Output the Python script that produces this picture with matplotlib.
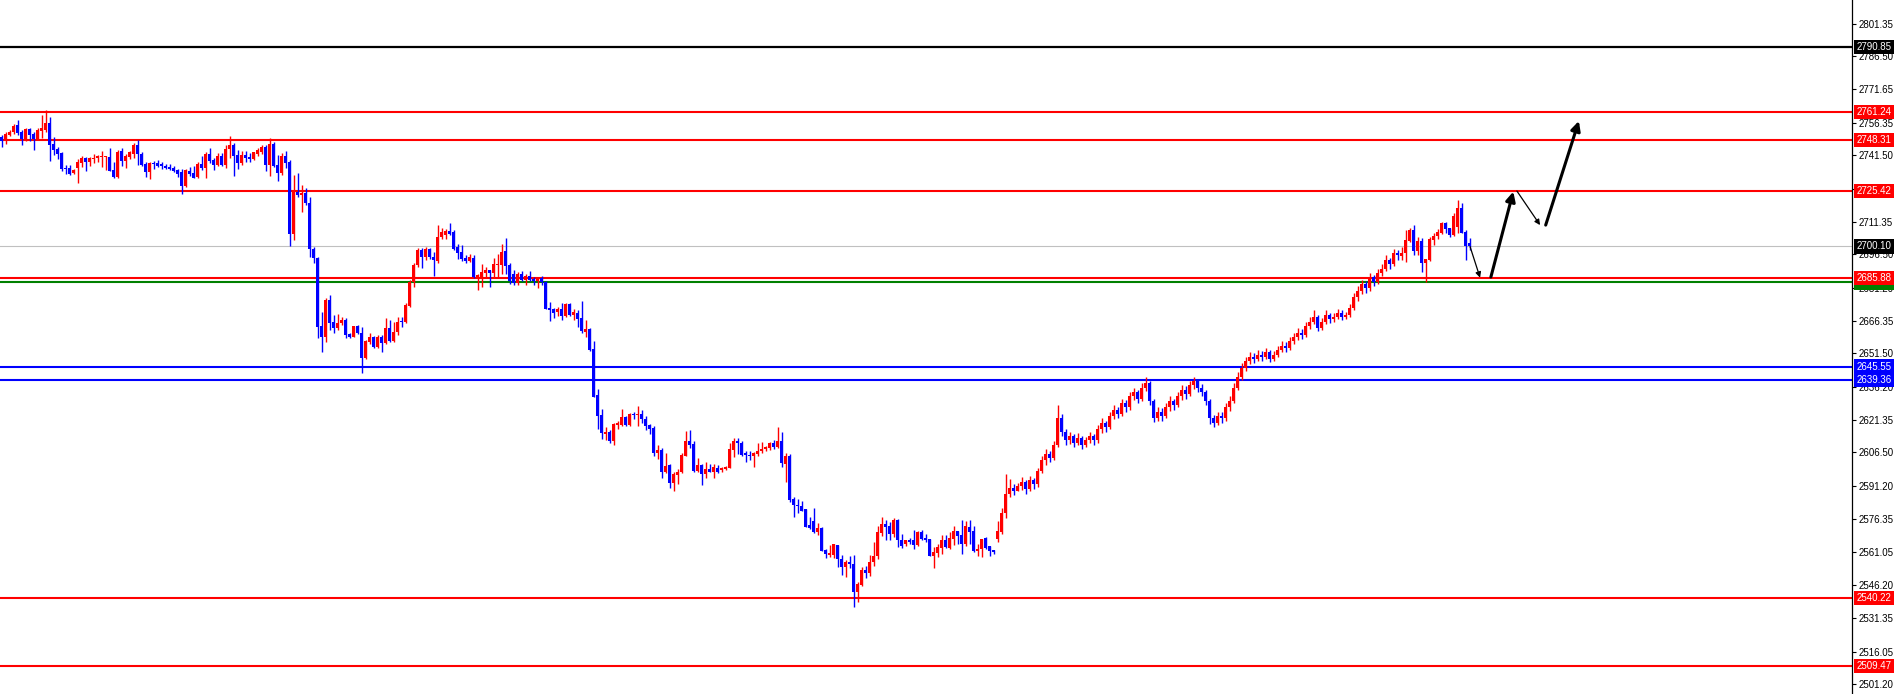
import numpy as np
import matplotlib
matplotlib.use('Agg')
import matplotlib.pyplot as plt
import matplotlib.transforms as mtransforms

# candle data (H4 style chart), oldest first
opens = [
	2749.7, 2748.6, 2750.9, 2752.0, 2755.1, 2752.0, 2749.1, 2753.4, 2751.4, 2749.1,
	2752.5, 2753.2, 2756.0, 2746.8, 2744.5, 2742.6, 2735.8, 2735.8, 2733.4, 2735.8,
	2738.1, 2740.4, 2738.6, 2739.7, 2740.2, 2740.6, 2740.8, 2740.9, 2734.8, 2731.5,
	2743.5, 2739.1, 2740.8, 2742.0, 2746.3, 2742.3, 2737.5, 2734.0, 2738.0, 2738.0,
	2737.4, 2736.8, 2736.3, 2735.8, 2734.7, 2734.0, 2727.4, 2734.5, 2733.5, 2731.5,
	2737.4, 2735.8, 2741.9, 2739.3, 2737.1, 2741.2, 2737.1, 2744.3, 2746.3, 2741.7,
	2737.8, 2741.7, 2740.9, 2739.8, 2742.0, 2742.9, 2745.5, 2737.1, 2746.6, 2737.1,
	2733.5, 2741.2, 2738.6, 2705.8, 2725.0, 2723.7, 2724.5, 2720.0, 2698.8, 2694.7,
	2663.9, 2659.1, 2675.7, 2665.9, 2662.9, 2665.2, 2666.7, 2660.3, 2659.1, 2663.9,
	2660.9, 2649.3, 2656.7, 2658.8, 2654.2, 2658.8, 2656.4, 2662.9, 2657.1, 2661.4,
	2666.2, 2665.9, 2673.2, 2684.1, 2691.6, 2698.5, 2695.1, 2698.8, 2695.4, 2693.6,
	2704.3, 2705.3, 2707.1, 2706.6, 2699.8, 2697.5, 2695.0, 2693.4, 2695.0, 2686.3,
	2686.3, 2688.1, 2689.2, 2688.1, 2691.6, 2691.5, 2698.0, 2691.5, 2687.4, 2683.3,
	2687.8, 2684.8, 2686.9, 2685.4, 2684.3, 2685.8, 2683.9, 2672.2, 2671.5, 2670.3,
	2671.8, 2668.5, 2673.8, 2668.8, 2670.0, 2667.5, 2661.4, 2662.7, 2653.4, 2632.7,
	2623.6, 2615.0, 2615.9, 2611.5, 2619.0, 2619.0, 2622.8, 2619.0, 2624.2, 2623.7,
	2624.0, 2621.9, 2619.0, 2617.8, 2606.2, 2607.7, 2597.8, 2600.6, 2592.6, 2596.3,
	2597.4, 2605.0, 2611.8, 2610.4, 2598.3, 2600.9, 2596.8, 2599.1, 2597.8, 2599.4,
	2598.4, 2598.8, 2599.3, 2607.6, 2611.9, 2610.9, 2606.1, 2605.5, 2604.7, 2605.8,
	2607.0, 2607.9, 2608.4, 2610.6, 2608.8, 2611.9, 2601.3, 2605.0, 2585.4, 2582.8,
	2582.2, 2580.7, 2573.7, 2575.2, 2570.2, 2572.0, 2562.3, 2559.9, 2560.1, 2564.6,
	2558.2, 2554.3, 2556.9, 2555.8, 2543.0, 2546.4, 2553.1, 2551.6, 2556.6, 2559.5,
	2570.1, 2573.8, 2572.9, 2569.3, 2575.7, 2566.9, 2564.8, 2566.6, 2566.6, 2564.3,
	2570.2, 2567.5, 2567.0, 2559.5, 2560.8, 2563.1, 2566.6, 2563.2, 2567.2, 2570.7,
	2568.8, 2564.8, 2572.6, 2570.7, 2561.6, 2562.5, 2567.5, 2563.8, 2562.0, 2567.0,
	2570.4, 2579.0, 2587.8, 2590.5, 2588.8, 2591.1, 2593.0, 2590.0, 2594.0, 2592.0,
	2598.0, 2603.0, 2606.0, 2604.0, 2610.0, 2622.0, 2616.0, 2612.0, 2614.0, 2611.0,
	2613.0, 2610.0, 2612.0, 2614.0, 2612.0, 2617.0, 2620.0, 2618.0, 2623.0, 2626.0,
	2624.0, 2629.0, 2627.0, 2632.0, 2634.0, 2631.0, 2636.0, 2638.0, 2630.0, 2622.0,
	2625.0, 2623.0, 2627.0, 2630.0, 2628.0, 2632.0, 2635.0, 2633.0, 2637.0, 2639.0,
	2636.0, 2634.0, 2630.0, 2622.0, 2620.0, 2623.0, 2622.0, 2627.0, 2630.0, 2636.0,
	2641.0, 2645.0, 2648.0, 2650.0, 2649.0, 2651.0, 2650.0, 2652.0, 2649.0, 2651.0,
	2653.0, 2655.0, 2654.0, 2657.0, 2659.0, 2661.0, 2660.0, 2664.0, 2666.0, 2668.0,
	2663.0, 2666.0, 2669.0, 2667.0, 2668.0, 2670.0, 2668.0, 2669.0, 2672.0, 2677.0,
	2680.0, 2683.0, 2681.0, 2686.0, 2684.0, 2688.0, 2690.0, 2694.0, 2692.0, 2697.0,
	2695.8, 2697.3, 2702.7, 2707.6, 2698.2, 2702.6, 2692.4, 2694.0, 2703.0, 2704.8,
	2706.3, 2710.6, 2708.3, 2705.3, 2709.0, 2717.4, 2706.8, 2701.5]

highs = [
	2750.9, 2752.2, 2752.8, 2755.9, 2757.4, 2752.8, 2753.7, 2753.7, 2752.2, 2754.0,
	2759.9, 2762.0, 2758.9, 2749.9, 2745.2, 2743.2, 2737.1, 2737.1, 2735.5, 2739.9,
	2741.2, 2740.9, 2740.9, 2741.9, 2741.7, 2743.5, 2741.3, 2744.8, 2738.6, 2744.0,
	2745.0, 2741.9, 2743.5, 2747.1, 2748.3, 2743.2, 2738.6, 2738.6, 2738.9, 2739.4,
	2738.6, 2737.4, 2737.6, 2736.6, 2735.5, 2735.2, 2735.5, 2736.3, 2736.6, 2738.6,
	2741.3, 2743.2, 2745.0, 2740.1, 2742.5, 2742.5, 2746.3, 2750.1, 2747.1, 2744.0,
	2743.5, 2743.5, 2742.5, 2743.2, 2744.8, 2746.3, 2746.3, 2749.4, 2747.4, 2741.7,
	2742.5, 2743.5, 2739.4, 2732.7, 2733.6, 2728.0, 2726.5, 2722.7, 2700.0, 2695.4,
	2670.1, 2676.5, 2678.0, 2668.9, 2669.4, 2668.2, 2667.4, 2660.9, 2664.1, 2664.2,
	2663.6, 2657.6, 2660.9, 2659.4, 2659.8, 2659.8, 2667.4, 2666.6, 2665.9, 2668.2,
	2668.2, 2674.2, 2684.8, 2692.4, 2699.5, 2699.2, 2699.7, 2699.2, 2697.7, 2710.0,
	2708.6, 2708.1, 2710.6, 2707.4, 2701.0, 2700.6, 2696.0, 2696.5, 2696.0, 2687.8,
	2691.9, 2690.9, 2689.2, 2694.9, 2696.5, 2701.0, 2704.0, 2692.7, 2689.3, 2688.4,
	2688.9, 2687.4, 2688.9, 2686.3, 2686.3, 2686.6, 2684.4, 2674.8, 2672.2, 2672.7,
	2674.2, 2674.2, 2674.2, 2671.5, 2671.2, 2675.3, 2666.8, 2662.9, 2657.2, 2635.4,
	2626.3, 2618.1, 2616.5, 2619.8, 2620.6, 2626.3, 2623.1, 2624.4, 2625.1, 2627.4,
	2625.9, 2623.1, 2619.5, 2618.3, 2610.0, 2608.4, 2606.2, 2601.2, 2597.4, 2598.9,
	2606.2, 2616.3, 2616.8, 2611.5, 2603.9, 2601.3, 2602.1, 2601.3, 2601.3, 2600.9,
	2599.7, 2600.4, 2611.0, 2612.9, 2612.9, 2611.5, 2607.3, 2607.0, 2606.5, 2610.6,
	2611.1, 2609.6, 2611.1, 2612.2, 2618.2, 2615.9, 2606.2, 2605.8, 2586.1, 2585.2,
	2584.6, 2580.8, 2577.0, 2581.1, 2574.3, 2572.5, 2562.6, 2564.6, 2564.9, 2564.6,
	2560.1, 2557.6, 2559.6, 2560.1, 2547.5, 2554.6, 2555.1, 2560.1, 2565.7, 2572.9,
	2577.2, 2575.7, 2574.9, 2576.7, 2576.1, 2569.3, 2566.9, 2567.5, 2571.4, 2570.8,
	2571.1, 2569.3, 2567.0, 2563.5, 2564.8, 2568.8, 2568.8, 2570.2, 2572.9, 2570.8,
	2575.7, 2575.2, 2575.7, 2572.9, 2564.8, 2567.3, 2568.1, 2563.8, 2562.3, 2575.2,
	2581.3, 2596.9, 2594.6, 2592.3, 2592.6, 2595.5, 2594.0, 2596.0, 2595.0, 2599.5,
	2605.0, 2608.0, 2607.0, 2611.5, 2628.0, 2624.0, 2617.0, 2616.0, 2615.0, 2615.5,
	2614.0, 2613.5, 2616.0, 2615.0, 2619.0, 2622.0, 2621.0, 2625.0, 2628.0, 2627.0,
	2631.0, 2630.5, 2634.0, 2636.0, 2635.0, 2638.0, 2641.0, 2639.0, 2631.0, 2627.0,
	2626.5, 2629.0, 2632.0, 2631.0, 2634.0, 2637.0, 2636.5, 2639.0, 2641.0, 2640.0,
	2637.5, 2635.0, 2631.0, 2623.5, 2625.0, 2625.0, 2629.0, 2632.0, 2638.0, 2643.0,
	2647.0, 2650.0, 2652.0, 2651.5, 2653.0, 2652.5, 2654.0, 2653.0, 2652.5, 2655.0,
	2657.0, 2656.5, 2659.0, 2661.0, 2663.0, 2662.5, 2666.0, 2668.0, 2671.0, 2669.0,
	2667.5, 2671.0, 2670.0, 2670.0, 2671.5, 2671.0, 2670.5, 2674.0, 2679.0, 2682.0,
	2685.0, 2684.5, 2688.0, 2687.0, 2690.0, 2692.0, 2696.0, 2695.0, 2699.0, 2698.5,
	2700.0, 2707.6, 2708.4, 2709.9, 2704.5, 2703.8, 2694.4, 2704.5, 2706.3, 2707.8,
	2711.3, 2711.3, 2708.7, 2715.1, 2721.2, 2720.0, 2707.6, 2703.8]

lows = [
	2745.1, 2746.8, 2750.3, 2751.2, 2750.6, 2746.3, 2747.9, 2748.2, 2744.0, 2748.8,
	2749.4, 2752.0, 2739.1, 2741.7, 2740.0, 2734.5, 2733.2, 2732.5, 2732.8, 2728.9,
	2736.3, 2734.5, 2736.6, 2737.8, 2738.6, 2736.3, 2734.8, 2734.3, 2731.2, 2731.2,
	2736.6, 2735.8, 2739.7, 2740.2, 2737.1, 2736.6, 2731.7, 2730.9, 2735.4, 2736.3,
	2735.5, 2735.2, 2734.7, 2733.7, 2731.7, 2723.8, 2727.1, 2732.0, 2731.1, 2731.1,
	2734.7, 2731.1, 2738.1, 2734.7, 2736.8, 2736.8, 2735.8, 2740.4, 2732.0, 2735.2,
	2737.2, 2738.6, 2738.6, 2739.3, 2741.4, 2742.0, 2734.3, 2731.9, 2736.2, 2729.8,
	2732.4, 2735.8, 2700.1, 2702.9, 2722.5, 2715.9, 2718.9, 2695.4, 2692.4, 2658.3,
	2652.0, 2656.8, 2662.1, 2660.6, 2662.1, 2664.4, 2658.3, 2658.3, 2658.8, 2660.3,
	2642.7, 2648.8, 2655.7, 2653.9, 2653.9, 2652.3, 2655.7, 2656.8, 2656.8, 2659.8,
	2663.6, 2665.1, 2672.7, 2681.8, 2690.9, 2690.1, 2693.9, 2694.6, 2686.6, 2692.4,
	2703.3, 2703.6, 2705.1, 2698.7, 2694.5, 2693.7, 2692.7, 2693.1, 2685.9, 2680.3,
	2681.8, 2685.9, 2681.8, 2686.3, 2686.3, 2687.4, 2687.4, 2683.1, 2682.4, 2682.8,
	2684.3, 2682.8, 2684.3, 2682.4, 2681.2, 2682.7, 2671.5, 2666.2, 2667.7, 2668.5,
	2666.6, 2668.1, 2668.5, 2666.9, 2663.4, 2660.9, 2658.9, 2652.7, 2631.6, 2617.2,
	2612.7, 2612.2, 2610.7, 2610.0, 2617.2, 2618.3, 2618.6, 2618.6, 2621.6, 2618.6,
	2620.1, 2616.8, 2615.0, 2604.7, 2603.5, 2594.8, 2597.1, 2590.3, 2589.2, 2592.2,
	2597.1, 2604.7, 2608.4, 2597.4, 2597.8, 2591.8, 2594.8, 2597.4, 2594.7, 2597.1,
	2597.7, 2598.4, 2599.3, 2604.6, 2605.8, 2605.0, 2602.3, 2603.1, 2599.9, 2605.0,
	2606.2, 2607.3, 2607.8, 2608.1, 2608.4, 2600.0, 2592.9, 2583.8, 2577.0, 2578.8,
	2579.7, 2572.5, 2571.7, 2569.8, 2569.1, 2561.6, 2558.4, 2559.2, 2558.5, 2554.6,
	2551.0, 2549.8, 2553.9, 2536.1, 2538.4, 2546.0, 2549.3, 2550.5, 2555.1, 2558.2,
	2568.5, 2566.6, 2566.6, 2568.1, 2563.5, 2563.2, 2563.8, 2565.1, 2562.5, 2564.0,
	2566.6, 2565.8, 2559.3, 2554.0, 2559.0, 2560.5, 2563.1, 2562.8, 2564.3, 2564.8,
	2560.5, 2564.0, 2564.8, 2561.4, 2559.3, 2559.0, 2562.5, 2559.5, 2560.5, 2565.8,
	2569.6, 2576.9, 2586.3, 2587.0, 2588.8, 2589.5, 2587.5, 2589.0, 2590.0, 2591.0,
	2597.0, 2601.0, 2602.0, 2603.0, 2609.0, 2614.0, 2610.0, 2610.5, 2609.0, 2610.0,
	2608.0, 2609.0, 2611.0, 2610.0, 2611.0, 2615.5, 2616.0, 2617.0, 2621.5, 2622.0,
	2623.0, 2625.0, 2626.0, 2630.5, 2629.0, 2630.0, 2634.5, 2628.0, 2620.5, 2621.0,
	2621.0, 2622.0, 2625.5, 2626.0, 2627.0, 2630.5, 2631.0, 2632.0, 2635.5, 2634.0,
	2632.0, 2628.0, 2619.5, 2618.0, 2619.0, 2620.0, 2621.0, 2625.5, 2629.0, 2635.0,
	2639.5, 2643.5, 2646.5, 2647.0, 2648.0, 2648.0, 2649.0, 2647.5, 2648.0, 2650.0,
	2652.0, 2652.0, 2653.0, 2656.0, 2657.5, 2658.0, 2659.0, 2662.5, 2665.0, 2661.5,
	2662.0, 2665.0, 2665.5, 2666.0, 2667.0, 2666.5, 2667.0, 2668.0, 2671.0, 2675.5,
	2678.5, 2679.0, 2680.0, 2682.0, 2683.0, 2686.5, 2689.0, 2690.0, 2691.0, 2694.0,
	2693.9, 2693.2, 2702.0, 2696.2, 2696.2, 2688.6, 2684.1, 2693.7, 2700.7, 2703.3,
	2705.7, 2706.1, 2704.5, 2704.8, 2706.3, 2706.0, 2693.9, 2698.4]

closes = [
	2748.2, 2751.2, 2752.2, 2754.9, 2751.5, 2749.1, 2753.4, 2750.9, 2749.1, 2752.8,
	2753.7, 2756.0, 2746.3, 2744.0, 2742.2, 2735.5, 2735.2, 2733.2, 2734.9, 2738.3,
	2740.3, 2738.6, 2740.1, 2740.4, 2741.1, 2740.9, 2741.1, 2734.6, 2731.5, 2743.2,
	2738.9, 2741.2, 2742.9, 2746.3, 2742.0, 2737.1, 2734.0, 2738.2, 2737.5, 2736.8,
	2736.6, 2735.8, 2735.2, 2734.3, 2733.2, 2727.5, 2734.7, 2733.2, 2731.4, 2737.4,
	2735.8, 2741.9, 2739.0, 2737.1, 2741.2, 2737.1, 2744.5, 2746.3, 2741.4, 2737.8,
	2741.7, 2740.2, 2739.8, 2742.8, 2744.0, 2745.5, 2737.1, 2746.6, 2736.6, 2733.5,
	2741.2, 2737.8, 2705.8, 2725.4, 2723.5, 2724.5, 2719.7, 2698.8, 2694.7, 2663.6,
	2659.1, 2675.7, 2665.4, 2662.9, 2665.4, 2666.7, 2659.8, 2658.8, 2663.9, 2660.6,
	2649.3, 2657.1, 2658.8, 2654.2, 2658.8, 2656.4, 2662.9, 2657.3, 2661.4, 2665.9,
	2665.6, 2673.4, 2684.1, 2691.6, 2698.5, 2695.1, 2698.8, 2695.1, 2693.9, 2704.3,
	2706.6, 2707.1, 2705.6, 2699.0, 2696.9, 2694.6, 2693.4, 2695.3, 2686.3, 2687.2,
	2688.7, 2689.3, 2688.1, 2691.9, 2691.9, 2697.5, 2691.2, 2684.3, 2683.6, 2687.8,
	2684.8, 2686.9, 2684.8, 2684.3, 2685.8, 2683.9, 2671.8, 2671.2, 2670.0, 2671.8,
	2668.5, 2673.8, 2668.8, 2670.3, 2667.2, 2661.6, 2662.7, 2653.1, 2631.9, 2623.1,
	2615.3, 2615.9, 2611.5, 2619.5, 2619.8, 2622.8, 2619.0, 2624.0, 2623.7, 2624.2,
	2621.6, 2618.7, 2617.2, 2606.2, 2607.7, 2597.8, 2600.4, 2592.6, 2596.8, 2597.8,
	2605.4, 2611.8, 2610.0, 2598.3, 2600.9, 2596.8, 2599.1, 2597.8, 2599.7, 2597.8,
	2599.3, 2599.9, 2608.1, 2611.9, 2610.6, 2605.5, 2605.3, 2604.7, 2606.1, 2607.3,
	2608.2, 2608.8, 2610.6, 2608.8, 2611.9, 2601.6, 2605.0, 2585.0, 2582.6, 2582.0,
	2580.0, 2572.8, 2572.2, 2570.5, 2572.2, 2561.9, 2560.4, 2560.7, 2564.9, 2558.1,
	2554.3, 2556.9, 2555.8, 2543.0, 2546.7, 2553.1, 2551.6, 2556.9, 2559.5, 2570.4,
	2573.8, 2572.6, 2569.3, 2575.7, 2566.6, 2563.8, 2566.6, 2566.0, 2564.3, 2570.4,
	2567.0, 2566.6, 2559.5, 2561.3, 2563.5, 2566.6, 2563.5, 2567.5, 2570.7, 2568.4,
	2564.8, 2572.9, 2570.4, 2561.6, 2562.8, 2567.3, 2563.1, 2561.6, 2561.1, 2570.7,
	2579.1, 2587.8, 2590.5, 2588.8, 2591.1, 2593.0, 2590.0, 2594.0, 2592.0, 2598.0,
	2603.0, 2606.0, 2604.0, 2610.0, 2622.0, 2616.0, 2612.0, 2614.0, 2611.0, 2613.0,
	2610.0, 2612.0, 2614.0, 2612.0, 2617.0, 2620.0, 2618.0, 2623.0, 2626.0, 2624.0,
	2629.0, 2627.0, 2632.0, 2634.0, 2631.0, 2636.0, 2638.0, 2630.0, 2622.0, 2625.0,
	2623.0, 2627.0, 2630.0, 2628.0, 2632.0, 2635.0, 2633.0, 2637.0, 2639.0, 2636.0,
	2634.0, 2630.0, 2622.0, 2620.0, 2623.0, 2622.0, 2627.0, 2630.0, 2636.0, 2641.0,
	2645.0, 2648.0, 2650.0, 2649.0, 2651.0, 2650.0, 2652.0, 2649.0, 2651.0, 2653.0,
	2655.0, 2654.0, 2657.0, 2659.0, 2661.0, 2660.0, 2664.0, 2666.0, 2668.0, 2663.0,
	2666.0, 2669.0, 2667.0, 2668.0, 2670.0, 2668.0, 2669.0, 2672.0, 2677.0, 2680.0,
	2683.0, 2681.0, 2686.0, 2684.0, 2688.0, 2690.0, 2694.0, 2692.0, 2697.0, 2696.0,
	2697.3, 2703.0, 2707.6, 2698.2, 2702.6, 2692.4, 2694.2, 2703.4, 2704.8, 2706.8,
	2710.6, 2707.8, 2705.3, 2713.9, 2717.4, 2706.3, 2700.2, 2700.1]

# horizontal levels
red_levels = [2761.24, 2748.31, 2725.42, 2685.88, 2540.22, 2509.47]
blue_levels = [2645.55, 2639.36]
green_level = 2683.76
black_level = 2790.85
bid_price = 2700.10

axis_ticks = [2801.35, 2786.50, 2771.65, 2756.35, 2741.50, 2726.20, 2711.35, 2696.50,
	2681.20, 2666.35, 2651.50, 2636.20, 2621.35, 2606.50, 2591.20, 2576.35, 2561.05,
	2546.20, 2531.35, 2516.05, 2501.20]

# projected path drawn by hand: (bar index, price) pairs, and which legs are bold
path_pts = [(367.1, 2700.0), (369.6, 2685.9), (372.3, 2686.2), (377.9, 2725.0),
	(378.8, 2725.3), (384.6, 2709.8), (386.0, 2709.8), (394.3, 2757.1)]
path_bold = [False, True, False, True]

RED = '#ff0000'
BLUE = '#0000ff'
GREEN = '#008000'

n = len(closes)
x = np.arange(n)
o = np.array(opens)
h = np.array(highs)
l = np.array(lows)
c = np.array(closes)
up = c >= o
cols = np.where(up, RED, BLUE)

fig = plt.figure(figsize=(18.97, 6.94), dpi=100)
ax = fig.add_axes([0, 0, 1852/1897.0, 1])

ax.vlines(x, l, h, colors=cols, linewidth=1.0, zorder=3)
bottoms = np.minimum(o, c)
heights = np.maximum(np.abs(c - o), 0.5)
ax.bar(x, heights, bottom=bottoms, width=0.74, color=cols, linewidth=0, zorder=4)

ax.axhline(bid_price, color='#c0c0c0', lw=0.8, zorder=2)
ax.axhline(black_level, color='k', lw=1.6, zorder=2)
for p in red_levels:
	ax.axhline(p, color=RED, lw=1.5, zorder=2)
for p in blue_levels:
	ax.axhline(p, color=BLUE, lw=1.5, zorder=2)
ax.axhline(green_level, color=GREEN, lw=1.5, zorder=2)

for k in range(len(path_bold)):
	p0 = path_pts[2*k]
	p1 = path_pts[2*k + 1]
	if path_bold[k]:
		ax.annotate('', xy=p1, xytext=p0, arrowprops=dict(arrowstyle='-|>', color='k',
			lw=2.2, mutation_scale=14, shrinkA=0, shrinkB=0), zorder=6)
	else:
		ax.annotate('', xy=p1, xytext=p0, arrowprops=dict(arrowstyle='-|>', color='k',
			lw=0.9, mutation_scale=8, shrinkA=0, shrinkB=0), zorder=6)

ax.set_xlim(-0.42, 462.58)
ax.set_ylim(2496.76, 2812.07)

for s in ['top', 'left', 'bottom']:
	ax.spines[s].set_visible(False)
ax.spines['right'].set_linewidth(0.9)
ax.set_xticks([])
ax.yaxis.tick_right()
ax.set_yticks(axis_ticks)
ax.set_yticklabels(['%.2f' % t for t in axis_ticks])
ax.tick_params(axis='y', direction='out', length=3, width=0.8, pad=2, labelsize=7)
for lab in ax.get_yticklabels():
	lab.set_fontfamily('Liberation Sans')

trans = mtransforms.blended_transform_factory(ax.transAxes, ax.transData)
def price_box(p, fc):
	ax.text(1.0025, p, '%.2f' % p, transform=trans, ha='left', va='center',
		fontsize=7, family='Liberation Sans', color='white', zorder=10,
		bbox=dict(boxstyle='square,pad=0.22', fc=fc, ec='none'))

price_box(green_level, GREEN)
for p in red_levels:
	price_box(p, RED)
for p in blue_levels:
	price_box(p, BLUE)
price_box(black_level, 'black')
price_box(bid_price, 'black')

fig.savefig('out.png', dpi=100)
